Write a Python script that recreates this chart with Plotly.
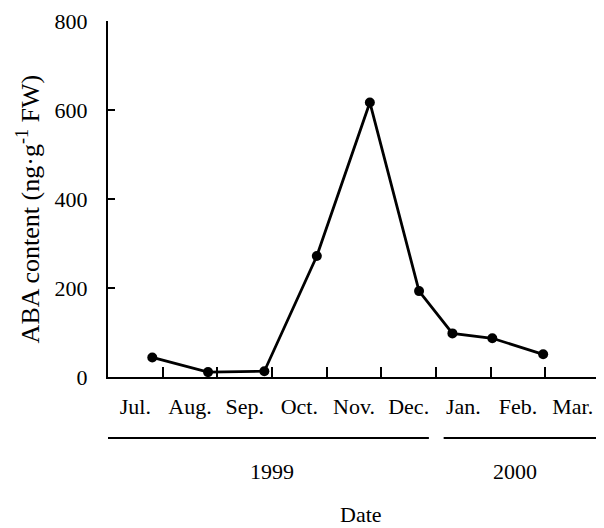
import plotly.graph_objects as go

# Data
months = ["Jul.", "Aug.", "Sep.", "Oct.", "Nov.", "Dec.", "Jan.", "Feb.", "Mar."]
month_centers = [0.5, 1.5, 2.5, 3.5, 4.5, 5.5, 6.5, 7.5, 8.5]
month_bounds = [1, 2, 3, 4, 5, 6, 7, 8, 9]
sample_pos = [0.81, 1.83, 2.86, 3.82, 4.79, 5.69, 6.30, 7.03, 7.96]
aba_values = [44, 11, 13, 272, 617, 193, 98, 87, 51]
y_ticks = [0, 200, 400, 600, 800]
years = ["1999", "2000"]
year_spans = [(0, 5.87), (6.14, 9)]
year_label_pos = [3.0, 7.45]

FONT = "Liberation Serif"

fig = go.Figure()
fig.add_trace(go.Scatter(
    x=sample_pos, y=aba_values, mode="lines+markers",
    line=dict(color="black", width=2.8),
    marker=dict(color="black", size=10),
    showlegend=False, xaxis="x", yaxis="y",
))
# invisible trace on xaxis2 to carry month labels
fig.add_trace(go.Scatter(
    x=month_centers, y=[None] * len(month_centers), mode="markers",
    showlegend=False, xaxis="x2", yaxis="y", hoverinfo="skip",
))

shapes = []
for (x0, x1) in year_spans:
    shapes.append(dict(type="line", xref="x", yref="paper", x0=x0, x1=x1,
                       y0=-0.171, y1=-0.171, line=dict(color="black", width=2)))

annotations = []
for lbl, xp in zip(years, year_label_pos):
    annotations.append(dict(text=lbl, x=xp, y=-0.265, xref="x", yref="paper",
                            showarrow=False, xanchor="center", yanchor="middle",
                            font=dict(family=FONT, size=22, color="black")))
annotations.append(dict(text="Date", x=4.62, y=-0.386, xref="x", yref="paper",
                        showarrow=False, xanchor="center", yanchor="middle",
                        font=dict(family=FONT, size=22, color="black")))
annotations.append(dict(text="ABA content (ng·g<sup>-1</sup> FW)", textangle=-90,
                        x=-0.161, y=0.473, xref="paper", yref="paper",
                        showarrow=False, xanchor="center", yanchor="middle",
                        font=dict(family=FONT, size=26, color="black")))

fig.update_layout(
    width=596, height=520,
    margin=dict(l=100, r=4, t=13, b=151),
    paper_bgcolor="white", plot_bgcolor="white",
    font=dict(family=FONT, size=22, color="black"),
    xaxis=dict(range=[0, 9], tickvals=month_bounds, ticks="inside", ticklen=10,
               tickwidth=2, tickcolor="black", showticklabels=False,
               showline=True, linecolor="black", linewidth=2,
               showgrid=False, zeroline=False, automargin=False),
    xaxis2=dict(range=[0, 9], overlaying="x", anchor="y", side="bottom",
                tickvals=month_centers, ticktext=months, ticks="",
                showline=False, showgrid=False, zeroline=False,
                ticklabelstandoff=14, automargin=False,
                tickfont=dict(family=FONT, size=22, color="black")),
    yaxis=dict(range=[0, 800], tickvals=y_ticks, ticks="inside", ticklen=7,
               tickwidth=2, tickcolor="black", showline=True, linecolor="black",
               linewidth=2, showgrid=False, zeroline=False, automargin=False,
               ticklabelstandoff=14,
               tickfont=dict(family=FONT, size=22, color="black")),
    shapes=shapes, annotations=annotations,
)

fig.write_html("out.html")
